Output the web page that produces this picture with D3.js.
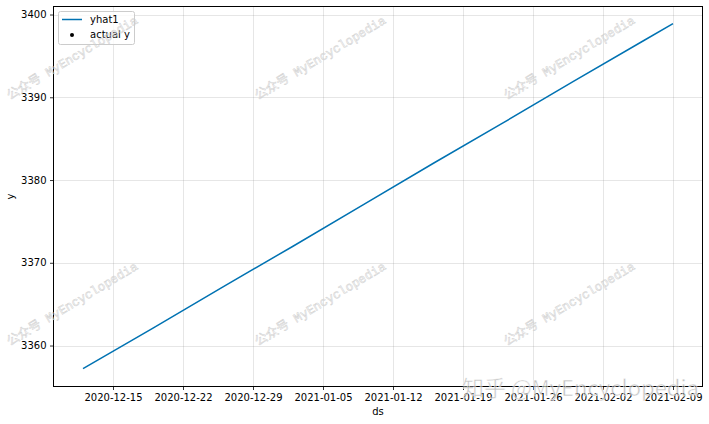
<!DOCTYPE html>
<html><head><meta charset="utf-8">
<script src="https://cdn.jsdelivr.net/npm/d3@7"></script>
<style>body{margin:0;background:#fff;} svg{display:block;font-family:"DejaVu Sans",sans-serif;}</style>
</head><body>
<svg id="c" width="709" height="424"></svg>
<script>
// data (the trend is a straight line)
const dates = ["2020-12-12","2020-12-19","2020-12-26","2021-01-02","2021-01-09","2021-01-16","2021-01-23","2021-01-30","2021-02-06","2021-02-09"];
const yhat1 = [3357.2,3362.1,3367.1,3372.0,3377.0,3382.0,3386.9,3391.9,3396.8,3398.9];
const xTicks = ["2020-12-15","2020-12-22","2020-12-29","2021-01-05","2021-01-12","2021-01-19","2021-01-26","2021-02-02","2021-02-09"];
const yTicks = [3360,3370,3380,3390,3400];
const legendLabels = ["yhat1","actual y"];
const watermark = "公众号 MyEncyclopedia";
const zhihu = "知乎 @MyEncyclopedia";

const parse = d3.utcParse("%Y-%m-%d");
const svg = d3.select("#c");
const L=53.5, R=702.5, T=6.5, B=386.5;
const x = d3.scaleUtc().domain([parse("2020-12-09").getTime()+0.05*864e5, parse("2021-02-11").getTime()+0.95*864e5]).range([L,R]);
const y = d3.scaleLinear().domain([3355.05,3400.97]).range([B,T]);

// grid
const g = svg.append("g");
g.selectAll(".vg").data(xTicks).join("line")
  .attr("x1",d=>Math.round(x(parse(d)))+0.5).attr("x2",d=>Math.round(x(parse(d)))+0.5)
  .attr("y1",T).attr("y2",B).attr("stroke","#808080").attr("stroke-opacity",0.2);
g.selectAll(".hg").data(yTicks).join("line")
  .attr("y1",d=>Math.round(y(d))+0.5).attr("y2",d=>Math.round(y(d))+0.5)
  .attr("x1",L).attr("x2",R).attr("stroke","#808080").attr("stroke-opacity",0.2);

// line
const line = d3.line().x((d,i)=>x(parse(dates[i]))).y(d=>y(d));
svg.append("path").datum(yhat1).attr("d",line).attr("fill","none").attr("stroke","#0072B2").attr("stroke-width",1.5);

// axes
const xAxis = d3.axisBottom(x).tickValues(xTicks.map(parse)).tickFormat(d3.utcFormat("%Y-%m-%d")).tickSize(3.5).tickPadding(3.5);
const yAxis = d3.axisLeft(y).tickValues(yTicks).tickFormat(d3.format("d")).tickSize(3.5).tickPadding(3.5);
const ax = svg.append("g").attr("transform",`translate(0,${B})`).call(xAxis);
const ay = svg.append("g").attr("transform",`translate(${L},0)`).call(yAxis);
[ax,ay].forEach(a=>{a.select(".domain").remove(); a.selectAll("text").attr("font-size",10).attr("fill","#000").attr("font-family","DejaVu Sans"); a.selectAll("line").attr("stroke","#000").attr("stroke-width",0.8);});
svg.append("rect").attr("x",L).attr("y",T).attr("width",R-L).attr("height",B-T).attr("fill","none").attr("stroke","#000").attr("stroke-width",1);

svg.append("text").attr("x",(L+R)/2).attr("y",415).attr("text-anchor","middle").attr("font-size",10).text("ds");
svg.append("text").attr("transform",`translate(14,${(T+B)/2}) rotate(-90)`).attr("text-anchor","middle").attr("font-size",10).text("y");

// legend
const lg = svg.append("g");
lg.append("rect").attr("x",58.5).attr("y",11.5).attr("width",76).attr("height",33).attr("rx",2).attr("fill","#fff").attr("fill-opacity",0.8).attr("stroke","#cccccc");
lg.append("line").attr("x1",62).attr("x2",82).attr("y1",19.5).attr("y2",19.5).attr("stroke","#0072B2").attr("stroke-width",1.5);
lg.append("circle").attr("cx",72).attr("cy",35).attr("r",2).attr("fill","#000");
lg.selectAll("text").data(legendLabels).join("text").attr("x",90).attr("y",(d,i)=>23+i*15).attr("font-size",10).text(d=>d);

// watermarks
const wm = [[10,100],[258,100],[507,100],[10,346],[258,346],[507,346]];
svg.selectAll(".wm").data(wm).join("text")
  .attr("transform",d=>`translate(${d[0]},${d[1]}) rotate(-31)`)
  .attr("font-size",12.5).attr("font-family","'Liberation Mono','Noto Sans CJK SC',monospace")
  .attr("fill","none").attr("stroke","#cfcfcf").attr("stroke-width",0.5)
  .text(watermark);
svg.append("text").attr("x",462).attr("y",396).attr("font-size",22)
  .attr("font-family","'Noto Sans CJK SC',sans-serif").attr("fill","#8a8a8a").attr("fill-opacity",0.5)
  .attr("stroke","#fff").attr("stroke-width",0.5).text(zhihu);
</script>
</body></html>
